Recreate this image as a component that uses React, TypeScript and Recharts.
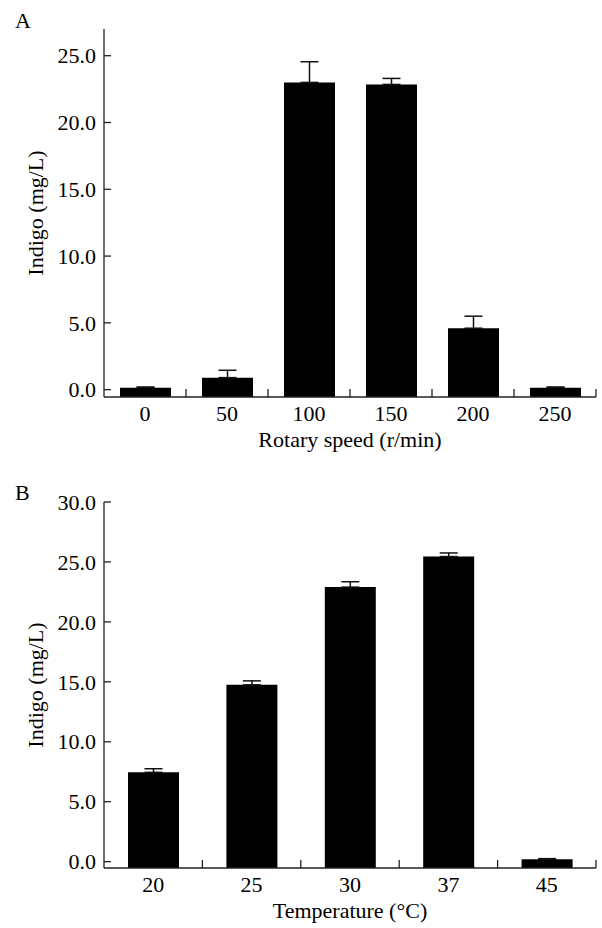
import React from 'react';
import { BarChart, Bar, XAxis, YAxis, ErrorBar } from 'recharts';

// Panel A: rotary speed
const speedLabels = ['0', '50', '100', '150', '200', '250'];
const speedIndigo = [0.15, 0.9, 23.0, 22.85, 4.6, 0.15];
const speedError = [0.05, 0.55, 1.55, 0.45, 0.9, 0.05];
const speedTicks = [0, 5, 10, 15, 20, 25];

// Panel B: temperature
const tempLabels = ['20', '25', '30', '37', '45'];
const tempIndigo = [7.45, 14.75, 22.9, 25.45, 0.2];
const tempError = [0.3, 0.33, 0.45, 0.3, 0.05];
const tempTicks = [0, 5, 10, 15, 20, 25, 30];

const FONT = "'Liberation Serif', 'Times New Roman', Times, serif";
const INK = '#222';
const W = 602;
const AXIS_W = 104;
const RIGHT = 6;
const FS = 22;

const txt: React.CSSProperties = { fontFamily: FONT, fontSize: FS, fill: '#000' };

interface PanelProps {
  letter: string;
  labels: string[];
  values: number[];
  errors: number[];
  ticks: number[];
  domain: [number, number];
  xTitle: string;
  height: number;
  top: number;
  xAxisHeight: number;
}

const Panel: React.FC<PanelProps> = ({ letter, labels, values, errors, ticks, domain, xTitle, height, top, xAxisHeight }) => {
  const data = labels.map((name, i) => ({ name, v: values[i], err: errors[i] }));
  const half = (W - AXIS_W - RIGHT) / labels.length / 2;

  const XTick = (props: any) => {
    const { x, y, payload } = props;
    return (
      <g>
        <line x1={x + half} x2={x + half} y1={y} y2={y - 8} stroke={INK} strokeWidth={1.3} />
        <text x={x} y={y + 24} textAnchor="middle" style={txt}>
          {payload.value}
        </text>
      </g>
    );
  };

  const YTick = (props: any) => {
    const { x, y, payload } = props;
    return (
      <g>
        <line x1={x} x2={x + 7} y1={y} y2={y} stroke={INK} strokeWidth={1.3} />
        <text x={x - 8} y={y} dy="0.35em" textAnchor="end" style={txt}>
          {Number(payload.value).toFixed(1)}
        </text>
      </g>
    );
  };

  const YTitle = (props: any) => {
    const vb = props.viewBox;
    const cx = vb.x + 35;
    const cy = vb.y + vb.height / 2;
    return (
      <text x={cx} y={cy} dy="0.35em" transform={`rotate(-90 ${cx} ${cy})`} textAnchor="middle" style={txt}>
        Indigo (mg/L)
      </text>
    );
  };

  const XTitle = (props: any) => {
    const vb = props.viewBox;
    return (
      <text x={vb.x + vb.width / 2} y={vb.y + 50} textAnchor="middle" style={txt}>
        {xTitle}
      </text>
    );
  };

  return (
    <div style={{ position: 'absolute', left: 0, top, width: W, height }}>
      <svg width={40} height={40} style={{ position: 'absolute', left: 0, top: letter === 'A' ? 0 : 472 - top }}>
        <text x={15} y={28} style={txt}>{letter}</text>
      </svg>
      <BarChart width={W} height={height} data={data} margin={{ top: letter === 'A' ? 29 : 42, right: RIGHT, bottom: 0, left: 0 }}>
        <XAxis
          dataKey="name"
          interval={0}
          height={xAxisHeight}
          tickSize={0}
          tickMargin={0}
          tickLine={false}
          axisLine={{ stroke: INK, strokeWidth: 1.3 }}
          tick={<XTick />}
          label={<XTitle />}
        />
        <YAxis
          type="number"
          domain={domain}
          ticks={ticks}
          interval={0}
          width={AXIS_W}
          tickSize={0}
          tickMargin={0}
          tickLine={false}
          allowDataOverflow
          axisLine={{ stroke: INK, strokeWidth: 1.3 }}
          tick={<YTick />}
          label={<YTitle />}
        />
        <Bar dataKey={(d: any) => [domain[0], d.v]} barSize={51} fill="#000" isAnimationActive={false}>
          {/* only the upper whisker shows in the original */}
          <ErrorBar
            dataKey={(p: any) => [0, p && p.payload ? p.payload.err : p.err]}
            direction="y"
            width={9}
            stroke="#111"
            strokeWidth={1.5}
            isAnimationActive={false}
          />
        </Bar>
      </BarChart>
    </div>
  );
};

export default function App() {
  return (
    <div style={{ position: 'absolute', left: 0, top: 0, width: W, height: 928, background: '#fff' }}>
      <Panel
        letter="A"
        labels={speedLabels}
        values={speedIndigo}
        errors={speedError}
        ticks={speedTicks}
        domain={[-0.55, 27]}
        xTitle="Rotary speed (r/min)"
        height={460}
        top={0}
        xAxisHeight={63}
      />
      <Panel
        letter="B"
        labels={tempLabels}
        values={tempIndigo}
        errors={tempError}
        ticks={tempTicks}
        domain={[-0.53, 30]}
        xTitle="Temperature (°C)"
        height={468}
        top={460}
        xAxisHeight={60}
      />
    </div>
  );
}
